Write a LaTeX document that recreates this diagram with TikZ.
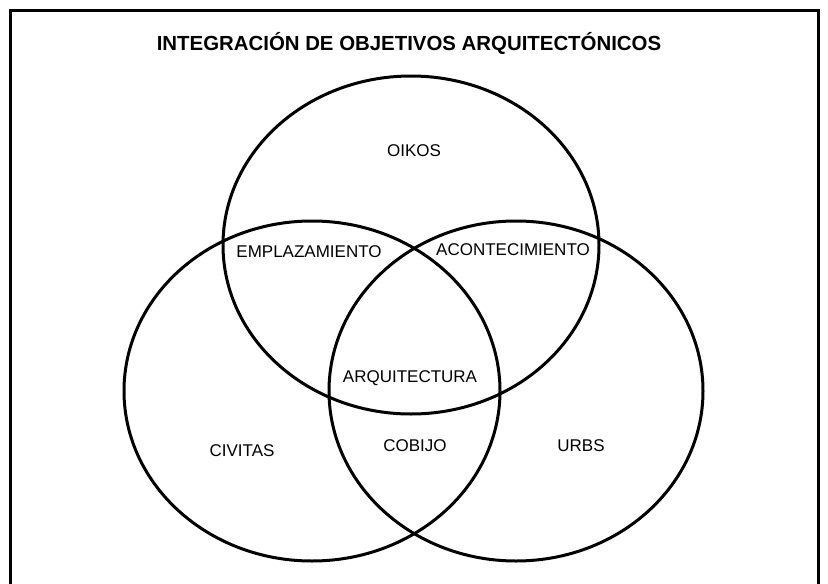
\documentclass[tikz,border=0pt]{standalone}
\usepackage{fontspec}
\setmainfont{Liberation Sans}
\begin{document}
\begin{tikzpicture}[x=1pt,y=-1pt,
  venn/.style={draw=black,line width=3pt},
  lbl/.style={anchor=base,inner sep=0pt,font=\fontsize{17}{20}\selectfont},
  ttl/.style={anchor=base,inner sep=0pt,font=\fontsize{20.4}{24}\selectfont\bfseries}]
\useasboundingbox (0,0) rectangle (828,584);
\begin{scope}
\clip (0,0) rectangle (828,584);
\draw[line width=3pt] (10,600) -- (10,10) -- (818,10) -- (818,600);
\end{scope}
\node[ttl] (title) at (409,50) {INTEGRACIÓN DE OBJETIVOS ARQUITECTÓNICOS};
\draw[venn] (411,245) ellipse [x radius=188, y radius=169];
\draw[venn] (312,391) ellipse [x radius=188, y radius=170];
\draw[venn] (516,391) ellipse [x radius=187, y radius=170];
\node[lbl] (oikos) at (414,156) {OIKOS};
\node[lbl] (empl) at (309,257) {EMPLAZAMIENTO};
\node[lbl] (acon) at (513,255) {ACONTECIMIENTO};
\node[lbl] (arq) at (410,382) {ARQUITECTURA};
\node[lbl] (civ) at (242,456) {CIVITAS};
\node[lbl] (cob) at (415,451) {COBIJO};
\node[lbl] (urbs) at (581,451) {URBS};
\end{tikzpicture}
\end{document}
